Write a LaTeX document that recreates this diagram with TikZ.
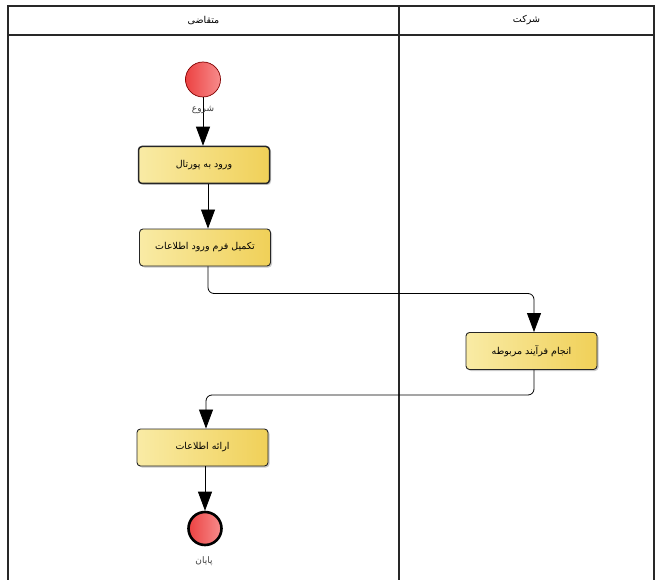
\documentclass[tikz,border=0pt]{standalone}
\usepackage{fontspec}
\newfontfamily\arabicfont[Script=Arabic]{DejaVu Sans}
\TeXXeTstate=1
\usetikzlibrary{arrows.meta,shadows}
\definecolor{boxL}{RGB}{249,235,165}
\definecolor{boxR}{RGB}{240,208,88}
\definecolor{redL}{RGB}{236,66,66}
\definecolor{redR}{RGB}{247,140,140}
\definecolor{laneC}{RGB}{40,40,40}
\tikzset{
  box/.style={draw=black!85, line width=0.9pt, rounded corners=3.5pt,
    left color=boxL, right color=boxR, minimum width=131pt, minimum height=37pt,
    inner sep=0pt, font=\arabicfont\fontsize{9.5}{11}\selectfont,
    drop shadow={shadow xshift=1.5pt, shadow yshift=-1.5pt, opacity=0.35, fill=black!60}},
  circ/.style={circle, inner sep=0pt, left color=redL, right color=redR},
  arr/.style={draw=black, line width=0.8pt, -{Triangle[width=14pt,length=19pt]}},
  lane/.style={draw=laneC, line width=1.3pt},
  lbl/.style={font=\arabicfont\fontsize{9}{10}\selectfont, text=black!75, inner sep=0pt},
  hdr/.style={font=\arabicfont\fontsize{9.5}{11}\selectfont, inner sep=0pt}
}
\begin{document}
\begin{tikzpicture}[x=1pt,y=-1pt]
\useasboundingbox (0,0) rectangle (661,580);
% lanes
\draw[lane] (8,582) -- (8,6) -- (654,6) -- (654,582);
\draw[lane] (8,35) -- (654,35);
\draw[lane] (399,6) -- (399,582);
\node[hdr] (h1) at (203.5,20.5) {\beginR متقاضی\endR};
\node[hdr] (h2) at (526.5,20.5) {\beginR شرکت\endR};
% nodes
\node[circ, draw=red!50!black, line width=0.7pt, minimum size=35pt] (start) at (203,79.5) {};
\node[box, line width=1.5pt] (b1) at (204,165) {\beginR ورود به پورتال\endR};
\node[box] (b2) at (205,247.5) {\beginR تکمیل فرم ورود اطلاعات\endR};
\node[box] (b3) at (531.5,351) {\beginR انجام فرآیند مربوطه\endR};
\node[box] (b4) at (202.5,447.5) {\beginR ارائه اطلاعات\endR};
\node[circ, draw=black, line width=2.6pt, minimum size=33pt] (end) at (205,528.5) {};
% connectors
\draw[arr] (start.south) -- (start.south |- b1.north);
\node[lbl] (ls) at (203,110) {\beginR شروع\endR};
\draw[arr] ([xshift=4pt]b1.south) -- ([xshift=4pt]b1.south |- b2.north);
\coordinate (k1) at (534,293.5);
\draw[arr, rounded corners=6pt] ([xshift=3pt]b2.south) |- (k1) -- (k1 |- b3.north);
\coordinate (k2) at (206,395);
\draw[arr, rounded corners=6pt] ([xshift=2.5pt]b3.south) |- (k2) -- (k2 |- b4.north);
\draw[arr] (b4.south -| end) -- (end.north);
\node[lbl] (le) at (204,561) {\beginR پایان\endR};
\end{tikzpicture}
\end{document}
